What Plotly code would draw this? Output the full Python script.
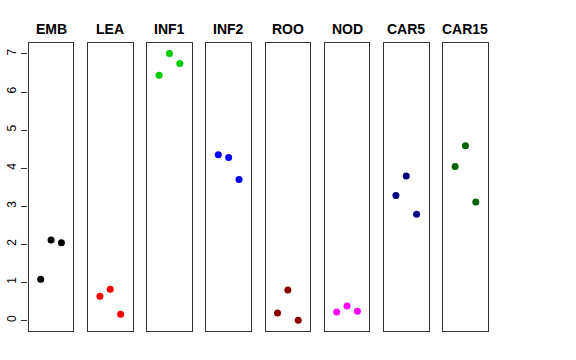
import plotly.graph_objects as go

panels = ["EMB", "LEA", "INF1", "INF2", "ROO", "NOD", "CAR5", "CAR15"]
values = {
    "EMB":   [1.08, 2.11, 2.04],
    "LEA":   [0.63, 0.82, 0.16],
    "INF1":  [6.44, 7.01, 6.75],
    "INF2":  [4.35, 4.28, 3.70],
    "ROO":   [0.19, 0.80, 0.00],
    "NOD":   [0.22, 0.38, 0.24],
    "CAR5":  [3.28, 3.79, 2.79],
    "CAR15": [4.04, 4.59, 3.11],
}
colors = ["#000000", "#FF0000", "#00CD00", "#0000FF", "#8B0000", "#FF00FF", "#000080", "#006400"]
xpos = [1, 2, 3]
yticks = [0, 1, 2, 3, 4, 5, 6, 7]

W, H = 576, 360
left0, pw, step = 28.7, 44.7, 59.2
ytop, ybot = 43.3, 331.0
ydom = [1 - ybot / H, 1 - ytop / H]
yrange = [-0.28, 7.28]
xrange = [-0.16, 4.16]

fig = go.Figure()
layout = dict(
    width=W, height=H,
    margin=dict(l=0, r=0, t=0, b=0, autoexpand=False),
    paper_bgcolor="white", plot_bgcolor="white",
    showlegend=False,
    font=dict(family="Liberation Sans, Arial, sans-serif", color="black"),
)
annotations = []
for i, name in enumerate(panels):
    n = "" if i == 0 else str(i + 1)
    l = left0 + i * step
    xd = [l / W, (l + pw) / W]
    layout["xaxis" + n] = dict(domain=xd, range=xrange, anchor="y" + n, showgrid=False,
                               zeroline=False, showticklabels=False, ticks="",
                               showline=True, mirror=True, linecolor="#333333", linewidth=1)
    layout["yaxis" + n] = dict(domain=ydom, range=yrange, anchor="x" + n, showgrid=False,
                               zeroline=False, showticklabels=False, ticks="",
                               showline=True, mirror=True, linecolor="#333333", linewidth=1)
    fig.add_trace(go.Scatter(x=xpos, y=values[name], mode="markers",
                             marker=dict(color=colors[i], size=7),
                             xaxis="x" + n, yaxis="y" + n, hoverinfo="skip"))
    annotations.append(dict(text="<b>%s</b>" % name, x=(xd[0] + xd[1]) / 2, y=1 - 29.3 / H,
                            xref="paper", yref="paper", xanchor="center", yanchor="middle",
                            showarrow=False, font=dict(size=14, color="black")))

# free-standing y axis carrying the ticks
layout["yaxis9"] = dict(domain=ydom, range=yrange, anchor="free", overlaying="y",
                        position=26.7 / W, side="left", showgrid=False, zeroline=False,
                        showline=False, ticks="outside", ticklen=6, tickcolor="#333333",
                        tickvals=yticks, ticktext=[str(v) for v in yticks],
                        tickangle=-90, tickfont=dict(size=12, color="black"))
fig.add_trace(go.Scatter(x=[None], y=[None], xaxis="x", yaxis="y9", mode="markers",
                         hoverinfo="skip"))
layout["annotations"] = annotations
fig.update_layout(**layout)
fig.write_html("out.html", config={"displayModeBar": False})

# remove the browser's default body margin so the figure sits at the page origin
with open("out.html", encoding="utf-8") as f:
    html = f.read()
html = html.replace("<body>", '<body style="margin:0">', 1)
with open("out.html", "w", encoding="utf-8") as f:
    f.write(html)
